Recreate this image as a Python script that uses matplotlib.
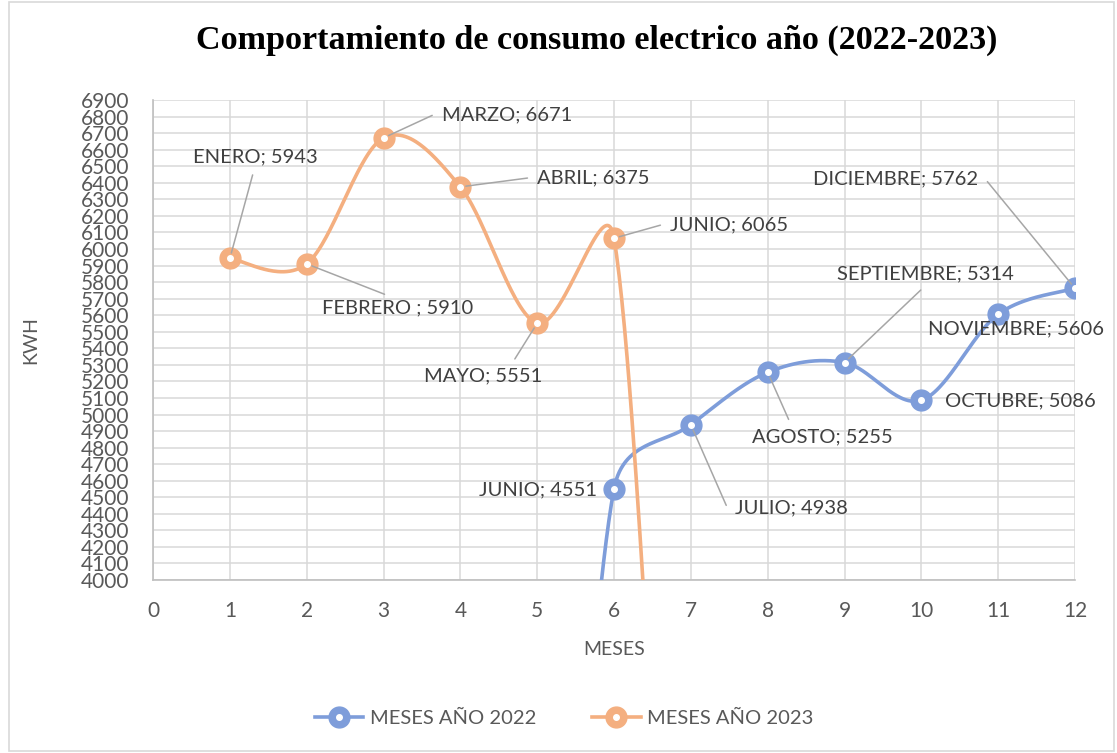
#!/usr/bin/env python3
"""Consumo eléctrico 2022-2023: curvas suavizadas estilo Excel."""

import matplotlib

matplotlib.use("Agg")
import matplotlib.pyplot as plt
import numpy as np
from matplotlib.patches import Rectangle

# Datos (meses sin registro = 0, como en la hoja original).
meses = [1, 2, 3, 4, 5, 6, 7, 8, 9, 10, 11, 12]
nombres = ["ENERO", "FEBRERO ", "MARZO", "ABRIL", "MAYO", "JUNIO",
           "JULIO", "AGOSTO", "SEPTIEMBRE", "OCTUBRE", "NOVIEMBRE", "DICIEMBRE"]
kwh_2022 = [0, 0, 0, 0, 0, 4551, 4938, 5255, 5314, 5086, 5606, 5762]
kwh_2023 = [5943, 5910, 6671, 6375, 5551, 6065, 0, 0, 0, 0, 0, 0]

# Etiqueta: (x, y, ha, punto de salida de la guía o None, tramo horizontal).
pos_2022 = {6: (5.78, 4544, "right", None, 0),
            7: (7.58, 4435, "left", (0, 0.5), 8),
            8: (8.71, 4864, "center", (0.29, 1), 0),
            9: (10.05, 5849, "center", (0.52, 0), 0),
            10: (10.31, 5081, "left", None, 0),
            11: (11.23, 5516, "center", None, 0),
            12: (10.74, 6423, "right", (1, 0.5), 7)}
pos_2023 = {1: (1.33, 6556, "center", (0.5, 0), 0),
            2: (3.19, 5643, "center", (0.5, 1), 0),
            3: (3.76, 6809, "left", (0, 0.5), 9),
            4: (5.00, 6429, "left", (0, 0.5), 9),
            5: (4.30, 5232, "center", (0.72, 1), 0),
            6: (6.73, 6145, "left", (0, 0.5), 9)}

AZUL = "#7E9DDA"
NARANJA = "#F4AF80"
GRIS = "#595959"

plt.rcParams["font.family"] = ["Lato", "DejaVu Sans"]


def suavizar(ax, x, y, n=60):
    """Bezier como la línea suavizada de Excel (en coordenadas de pantalla)."""
    pts = ax.transData.transform(np.column_stack([x, y]).astype(float))
    ext = np.vstack([pts[0], pts, pts[-1]])
    t = np.linspace(0, 1, n)[:, None]
    f = 1.0 / 6.0
    partes = []
    for i in range(1, len(ext) - 2):
        p0, p1, p2, p3 = ext[i - 1], ext[i], ext[i + 1], ext[i + 2]
        d12 = np.hypot(*(p2 - p1))
        d02 = np.hypot(*(p2 - p0))
        d13 = np.hypot(*(p3 - p1))
        f0 = d12 / d02 / 2 if d02 / 6 >= d12 / 2 else f
        f1 = d12 / d13 / 2 if d13 / 6 >= d12 / 2 else f
        c1 = p1 + (p2 - p0) * f0
        c2 = p2 - (p3 - p1) * f1
        b = ((1 - t) ** 3 * p1 + 3 * (1 - t) ** 2 * t * c1
             + 3 * (1 - t) * t ** 2 * c2 + t ** 3 * p2)
        partes.append(b)
    curva = ax.transData.inverted().transform(np.vstack(partes))
    return curva[:, 0], curva[:, 1]


fig = plt.figure(figsize=(11.17, 7.53), dpi=100)
ax = fig.add_axes([0.137, 0.2297, 0.8254, 0.6375])
ax.set_xlim(0, 12)
ax.set_ylim(4000, 6900)

handles = []
for vals, color, pos, label in [(kwh_2022, AZUL, pos_2022, "MESES AÑO 2022"),
                                (kwh_2023, NARANJA, pos_2023, "MESES AÑO 2023")]:
    sx, sy = suavizar(ax, meses, vals)
    ax.plot(sx, sy, color=color, lw=2.6, zorder=3, solid_capstyle="round")
    ax.plot(meses, vals, ls="none", marker="o", ms=15, mfc=color, mec=color, zorder=4)
    ax.plot(meses, vals, ls="none", marker="o", ms=4, mfc="white", mec="white", zorder=5)
    leg_line = plt.Line2D([], [], color=color, lw=2.6, marker="o", ms=15,
                          mfc=color, mec=color)
    leg_dot = plt.Line2D([], [], ls="none", marker="o", ms=4, mfc="white", mec="white")
    handles.append(((leg_line, leg_dot), label))

    for m, (tx, ty, ha, rel, brazo) in pos.items():
        v = vals[m - 1]
        texto = f"{nombres[m - 1]}; {v}"
        arrow = None
        if rel is not None:
            arrow = dict(arrowstyle="-", color="#A6A6A6", lw=1.1, relpos=rel,
                         shrinkA=5, shrinkB=4)
            if brazo:
                ang = 180 if rel[0] == 0 else 0
                arrow["connectionstyle"] = (f"arc,angleA={ang},angleB=0,"
                                            f"armA={brazo},armB=0,rad=0")
        ax.annotate(texto, xy=(m, v), xytext=(tx, ty), ha=ha, va="center",
                    fontsize=14.5, color="#404040", arrowprops=arrow, zorder=6)

ax.set_xticks(range(0, 13))
ax.set_yticks(range(4000, 6901, 100))
ax.grid(True, color="#D9D9D9", lw=1.1)
ax.set_axisbelow(True)
ax.tick_params(length=0, labelsize=15, colors=GRIS)
ax.tick_params(axis="y", pad=17)
ax.tick_params(axis="x", pad=15)
for s in ["top", "right"]:
    ax.spines[s].set_visible(False)
for s in ["left", "bottom"]:
    ax.spines[s].set_color("#BFBFBF")
    ax.spines[s].set_linewidth(1.2)

ax.set_xlabel("MESES", fontsize=14, color=GRIS)
ax.set_ylabel("KWH", fontsize=14, color=GRIS)
ax.xaxis.set_label_coords(0.5, -0.128)
ax.yaxis.set_label_coords(-0.123, 0.5)

fig.text(0.534, 0.946, "Comportamiento de consumo electrico año (2022-2023)",
         ha="center", va="center", fontsize=24.6, fontweight="bold",
         family="Liberation Serif", color="black")

fig.legend([h for h, _ in handles], [l for _, l in handles], loc="center",
           bbox_to_anchor=(0.505, 0.046), ncol=2, frameon=False, fontsize=14.5,
           labelcolor=GRIS, handlelength=2.4, columnspacing=2.8, handletextpad=0.3)

fig.patches.append(Rectangle((0.008, 0.003), 0.989, 0.994, transform=fig.transFigure,
                             fill=False, edgecolor="#D9D9D9", lw=1.2))

fig.savefig("out.png", dpi=100)
